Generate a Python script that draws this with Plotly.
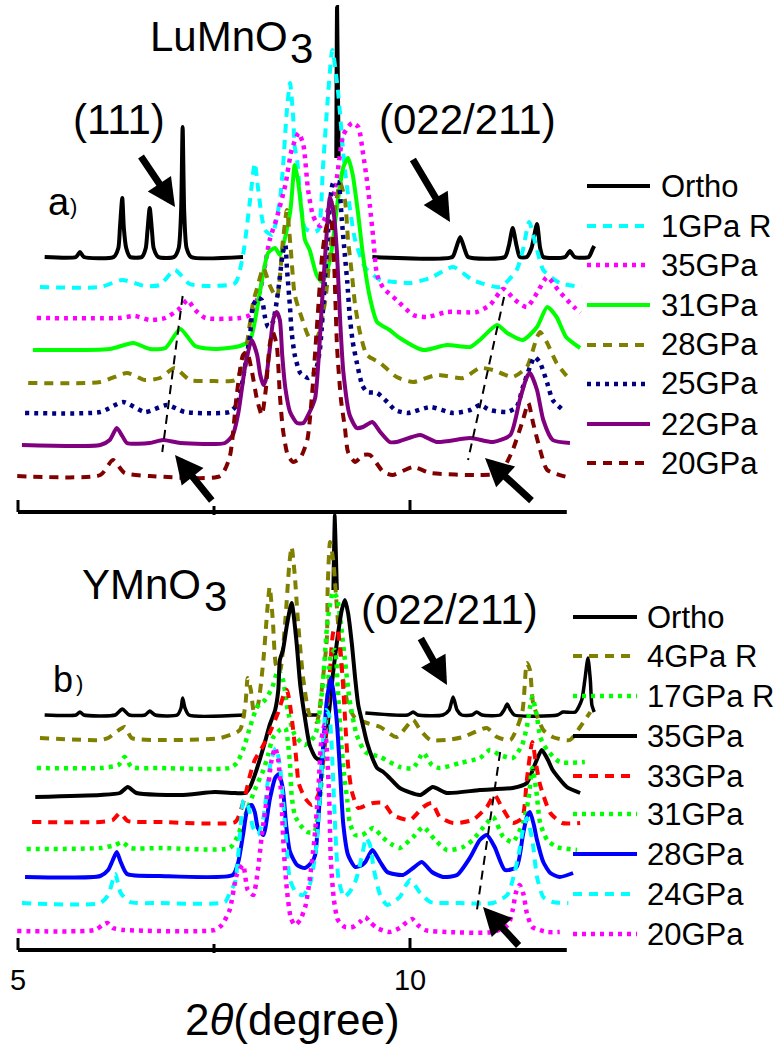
import plotly.graph_objects as go

W, H = 782, 1049
FONT = "Liberation Sans, Arial, sans-serif"

# ---------------- data (2theta in degree, intensity in arbitrary units, stacked) ----------------
tick_vals = [5, 10]
tick_text = ["5", "10"]
minor_tick = [7.5]
axis_span = [5, 12]

# Panel a) LuMnO3
a_names = ["Ortho", "1GPa R", "35GPa", "31GPa", "28GPa", "25GPa", "22GPa", "20GPa"]
a_ortho = [(5.34,255),(5.74,255),(5.79,260),(5.84,255),(6.22,255),(6.28,264),(6.30,284),(6.33,314),(6.35,284),(6.38,264),(6.43,255),
           (6.58,255),(6.63,264),(6.65,280),(6.68,304),(6.71,280),(6.73,264),(6.79,255),(6.99,255),(7.05,264),(7.08,300),(7.10,385),
           (7.12,300),(7.15,264),(7.21,255),(7.87,255), None, (9.06,354),(9.07,505),(9.09,354), None,
           (9.52,255),(10.54,255),(10.58,262),(10.64,275),(10.70,262),(10.74,255),(11.21,255),(11.26,266),(11.31,284),(11.36,266),
           (11.40,255),(11.49,255),(11.55,264),(11.62,288),(11.66,264),(11.70,255),(11.98,255),(12.04,261),(12.10,255),(12.28,255),
           (12.33,263),(12.35,266)]
a_1gpa_r = [(5.28,225),(6.05,225),(6.33,232),(6.62,226),(6.81,227),(7.00,242),(7.19,228),(7.45,226),(7.77,229),(7.87,257),(7.96,312),
            (8.02,349),(8.06,325),(8.11,295),(8.15,282),(8.24,277),(8.34,312),(8.38,345),(8.43,402),(8.47,429),(8.51,395),(8.53,365),
            (8.56,352),(8.66,284),(8.76,280),(8.83,282),(8.89,345),(8.95,412),(9.01,462),(9.08,422),(9.17,342),(9.30,272),(9.43,244),
            (9.58,234),(9.62,232),(10.00,229),(10.26,234),(10.55,245),(10.80,232),(11.15,225),(11.36,242),(11.44,262),(11.52,290),
            (11.62,262),(11.70,242),(11.91,229),(12.19,225)]
a_35gpa = [(5.24,194),(6.30,194),(6.49,196),(6.68,192),(6.88,194),(7.07,204),(7.16,212),(7.26,202),(7.39,194),(7.83,194),(7.96,197),
           (8.09,222),(8.21,272),(8.30,294),(8.41,327),(8.49,362),(8.58,379),(8.64,367),(8.70,322),(8.76,297),(8.81,289),(8.86,286),
           (9.04,322),(9.15,377),(9.26,389),(9.34,385),(9.40,359),(9.45,332),(9.49,305),(9.53,275),(9.58,237),(9.66,224),(9.83,212),
           (10.04,197),(10.22,195),(10.47,200),(10.85,200),(11.02,207),(11.19,223),(11.34,212),(11.49,205),(11.62,219),(11.75,235),
           (11.89,222),(12.04,209),(12.17,199)]
a_31gpa = [(5.19,162),(6.17,163),(6.47,169),(6.68,163),(6.88,164),(7.07,183),(7.26,166),(7.51,163),(7.83,166),(7.96,172),(8.09,222),
           (8.19,259),(8.28,264),(8.34,257),(8.47,299),(8.53,347),(8.57,332),(8.62,299),(8.66,272),(8.72,262),(8.81,237),(8.88,230),
           (8.98,252),(9.08,312),(9.15,345),(9.21,354),(9.27,337),(9.34,297),(9.40,257),(9.49,214),(9.58,190),(9.74,182),(9.87,174),
           (10.17,162),(10.47,167),(10.77,165),(10.89,172),(11.11,187),(11.24,179),(11.44,172),(11.62,185),(11.75,205),(11.87,195),
           (11.99,175),(12.17,164)]
a_28gpa = [(5.13,129),(6.05,130),(6.39,139),(6.62,132),(6.81,134),(7.00,144),(7.19,132),(7.45,131),(7.77,132),(7.87,147),(8.00,210),
           (8.05,224),(8.13,244),(8.21,227),(8.30,214),(8.38,272),(8.43,302),(8.48,262),(8.53,217),(8.62,194),(8.72,174),(8.81,174),
           (8.92,212),(9.02,292),(9.11,329),(9.17,312),(9.21,272),(9.26,237),(9.30,207),(9.36,180),(9.45,157),(9.62,149),(9.83,135),
           (10.04,130),(10.34,137),(10.68,134),(10.89,144),(11.06,142),(11.31,135),(11.49,145),(11.62,175),(11.66,180),(11.75,169),
           (11.87,149),(12.02,134)]
a_25gpa = [(5.09,99),(6.05,100),(6.34,110),(6.62,100),(6.90,107),(7.13,100),(7.70,100),(7.79,107),(7.83,117),(7.96,177),(8.00,207),
           (8.06,214),(8.11,212),(8.15,195),(8.19,185),(8.25,190),(8.32,222),(8.38,260),(8.41,267),(8.43,244),(8.47,204),(8.49,180),
           (8.53,157),(8.60,139),(8.70,134),(8.79,140),(8.85,162),(8.94,262),(9.02,329),(9.08,330),(9.13,292),(9.17,256),(9.20,230),
           (9.23,197),(9.27,170),(9.32,150),(9.39,127),(9.45,120),(9.58,119),(9.71,110),(9.81,102),(9.97,99),(10.26,105),(10.55,99),
           (10.77,102),(10.89,107),(11.02,102),(11.24,100),(11.36,105),(11.44,125),(11.53,145),(11.59,155),(11.66,149),(11.75,129),
           (11.82,112),(11.98,100)]
a_22gpa = [(5.05,67),(6.05,67),(6.17,72),(6.26,84),(6.33,76),(6.39,69),(6.68,69),(6.85,72),(7.07,69),(7.64,69),(7.74,77),(7.81,99),
           (7.90,147),(7.98,172),(8.05,157),(8.09,137),(8.13,127),(8.16,132),(8.21,162),(8.26,194),(8.30,200),(8.34,192),(8.37,157),
           (8.41,124),(8.47,100),(8.56,89),(8.64,89),(8.72,100),(8.79,114),(8.88,212),(8.94,282),(8.98,315),(9.03,297),(9.07,257),
           (9.11,190),(9.15,140),(9.23,97),(9.32,84),(9.40,85),(9.52,90),(9.62,80),(9.74,70),(9.83,70),(10.13,77),(10.34,70),
           (10.77,74),(11.06,70),(11.28,77),(11.40,112),(11.49,135),(11.53,139),(11.62,122),(11.70,92),(11.82,72),(12.04,69)]
a_20gpa = [(4.99,36),(6.05,37),(6.21,52),(6.36,39),(6.68,36),(7.58,36),(7.70,55),(7.79,117),(7.87,157),(7.92,160),(7.98,142),
           (8.05,112),(8.11,97),(8.16,122),(8.21,167),(8.25,180),(8.30,167),(8.34,117),(8.38,82),(8.44,57),(8.51,50),(8.60,54),
           (8.69,72),(8.75,117),(8.81,182),(8.88,257),(8.94,287),(8.99,292),(9.03,252),(9.07,164),(9.12,112),(9.17,84),(9.21,60),
           (9.30,50),(9.40,57),(9.49,57),(9.66,40),(9.78,37),(10.04,45),(10.26,39),(10.89,37),(11.15,39),(11.31,62),(11.44,92),
           (11.51,109),(11.57,89),(11.66,62),(11.75,42),(12.00,35)]
a_guides = [[(7.10,216),(6.84,60)], [(11.20,215),(10.74,52)]]

# Panel b) YMnO3
b_names = ["Ortho", "4GPa R", "17GPa R", "35GPa", "33GPa", "31GPa", "28GPa", "24GPa", "20GPa"]
b_ortho = [(5.34,235),(5.74,235),(5.79,238),(5.84,235),(6.24,235),(6.33,241),(6.42,235),(6.62,235),(6.68,239),(6.75,235),(7.03,235),
           (7.08,242),(7.10,252),(7.13,242),(7.18,235),(7.90,235), None, (8.66,235),(8.83,235), None, (9.02,360),(9.04,435),(9.07,360),
           None, (9.43,237),(9.97,235),(10.04,238),(10.10,235),(10.42,235),(10.50,240),(10.55,253),(10.60,240),(10.66,235),(10.79,235),
           (10.85,238),(10.92,235),(11.15,235),(11.20,240),(11.24,246),(11.28,240),(11.33,235),(11.88,235),(11.95,238),(12.11,238),
           (12.19,250),(12.23,270),(12.27,292),(12.30,270),(12.32,245),(12.35,238)]
b_4gpa_r = [(5.28,212),(6.05,210),(6.15,212),(6.36,223),(6.45,212),(6.81,210),(7.58,212),(7.83,220),(7.90,245),(7.93,272),(7.97,260),
            (8.01,238),(8.06,245),(8.13,290),(8.18,340),(8.21,363),(8.25,330),(8.29,285),(8.34,278),(8.41,330),(8.46,385),(8.49,403),
            (8.53,375),(8.57,330),(8.64,270),(8.72,235),(8.81,228),(8.89,272),(8.94,312),(8.95,362),(8.98,408),(9.02,390),(9.07,340),
            (9.13,280),(9.21,245),(9.30,232),(9.45,227),(9.62,223),(9.83,213),(10.04,230),(10.13,220),(10.26,210),(10.47,210),
            (10.68,213),(10.98,222),(11.11,213),(11.28,210),(11.43,237),(11.49,287),(11.53,280),(11.57,247),(11.70,220),(11.82,213),
            (12.04,210),(12.17,223),(12.30,238)]
b_17gpa_r = [(5.24,182),(6.05,182),(6.28,185),(6.36,193),(6.45,183),(6.81,182),(7.70,182),(7.79,187),(7.87,200),(7.96,223),(8.05,243),
             (8.15,250),(8.24,262),(8.32,280),(8.38,270),(8.44,240),(8.53,215),(8.66,205),(8.79,215),(8.88,260),(8.95,330),(9.02,358),
             (9.07,352),(9.12,325),(9.17,290),(9.23,250),(9.32,215),(9.43,198),(9.62,193),(9.87,183),(10.04,182),(10.17,197),(10.28,185),
             (10.38,182),(10.64,187),(10.89,192),(11.02,200),(11.15,195),(11.31,192),(11.43,205),(11.49,223),(11.56,253),(11.62,233),
             (11.66,213),(11.75,200),(11.91,188),(12.23,188)]
b_35gpa = [(5.22,153),(6.05,155),(6.30,157),(6.40,163),(6.51,157),(7.07,155),(7.51,158),(7.77,157),(7.90,157),(7.96,163),(8.02,175),
           (8.09,192),(8.15,208),(8.21,225),(8.28,240),(8.32,260),(8.34,290),(8.38,300),(8.43,325),(8.49,347),(8.55,310),(8.60,265),
           (8.66,232),(8.72,205),(8.79,193),(8.85,190),(8.94,220),(9.02,278),(9.08,315),(9.13,340),(9.17,350),(9.21,337),(9.26,305),
           (9.30,272),(9.34,245),(9.39,228),(9.45,208),(9.52,192),(9.58,182),(9.66,178),(9.74,172),(9.87,162),(10.13,155),(10.29,163),
           (10.47,157),(10.89,160),(11.31,162),(11.49,167),(11.59,185),(11.68,200),(11.76,190),(11.82,180),(12.00,163),(12.17,157)]
b_33gpa = [(5.18,128),(6.05,128),(6.21,130),(6.30,137),(6.40,129),(6.81,128),(7.77,128),(7.83,137),(7.90,155),(7.96,175),(8.02,190),
           (8.11,202),(8.21,217),(8.32,238),(8.39,255),(8.43,260),(8.47,245),(8.51,220),(8.55,190),(8.58,167),(8.66,152),(8.75,145),
           (8.83,155),(8.92,210),(8.98,280),(9.03,320),(9.07,320),(9.11,302),(9.15,260),(9.18,220),(9.21,185),(9.26,158),(9.34,142),
           (9.45,145),(9.53,147),(9.66,147),(9.78,135),(10.00,130),(10.17,143),(10.28,147),(10.38,133),(10.55,127),(10.80,130),
           (10.98,143),(11.08,155),(11.17,143),(11.31,127),(11.43,132),(11.49,170),(11.56,208),(11.61,185),(11.66,165),(11.79,137),
           (11.94,127),(12.17,127)]
b_31gpa = [(5.11,101),(6.05,102),(6.24,105),(6.33,108),(6.43,102),(6.81,102),(7.70,102),(7.79,112),(7.90,135),(8.02,160),(8.13,180),
           (8.19,195),(8.25,212),(8.34,220),(8.41,222),(8.44,210),(8.47,185),(8.49,155),(8.53,135),(8.60,125),(8.69,118),(8.78,118),
           (8.85,150),(8.93,230),(8.99,295),(9.04,300),(9.08,260),(9.12,210),(9.16,175),(9.20,150),(9.23,128),(9.30,115),(9.39,115),
           (9.45,118),(9.53,122),(9.66,112),(9.78,105),(9.87,102),(10.04,113),(10.17,123),(10.32,110),(10.47,100),(10.68,103),
           (10.80,110),(10.98,127),(11.06,133),(11.19,113),(11.31,108),(11.44,127),(11.51,150),(11.56,182),(11.61,160),(11.66,127),
           (11.75,110),(11.87,103),(12.13,100)]
b_28gpa = [(5.09,73),(6.05,74),(6.15,80),(6.21,90),(6.26,98),(6.31,88),(6.39,76),(6.81,74),(7.74,75),(7.81,88),(7.87,115),(7.93,142),
           (7.98,145),(8.02,138),(8.06,122),(8.13,115),(8.21,150),(8.28,172),(8.33,176),(8.38,160),(8.42,125),(8.47,98),(8.56,85),
           (8.66,82),(8.75,88),(8.79,95),(8.88,190),(8.94,250),(8.99,272),(9.03,255),(9.07,225),(9.11,175),(9.15,125),(9.21,95),
           (9.30,83),(9.39,85),(9.43,88),(9.52,100),(9.62,88),(9.71,78),(9.91,75),(10.04,82),(10.15,88),(10.28,78),(10.42,73),
           (10.60,75),(10.77,93),(10.89,110),(10.98,115),(11.08,103),(11.21,80),(11.36,83),(11.44,115),(11.49,133),(11.53,138),
           (11.58,125),(11.62,110),(11.70,88),(11.79,77),(11.91,73),(12.08,77)]
b_24gpa = [(5.05,47),(6.05,47),(6.15,55),(6.24,76),(6.31,57),(6.43,48),(6.81,47),(7.64,48),(7.70,57),(7.77,68),(7.83,115),(7.88,150),
           (7.93,145),(8.00,122),(8.06,115),(8.13,132),(8.18,165),(8.23,190),(8.29,202),(8.34,185),(8.38,150),(8.42,110),(8.47,70),
           (8.55,57),(8.64,55),(8.72,65),(8.80,100),(8.88,190),(8.93,240),(8.97,235),(9.02,170),(9.05,115),(9.09,70),(9.16,53),
           (9.23,58),(9.31,70),(9.39,95),(9.44,112),(9.49,105),(9.54,80),(9.62,55),(9.71,45),(9.87,53),(9.95,65),(10.00,70),
           (10.06,65),(10.13,57),(10.26,48),(10.64,47),(11.06,47),(11.24,55),(11.31,70),(11.38,93),(11.44,120),(11.49,132),
           (11.56,110),(11.62,73),(11.70,53),(11.82,48),(12.02,47)]
b_20gpa = [(4.99,19),(5.98,20),(6.08,25),(6.14,27),(6.21,22),(6.36,20),(7.51,20),(7.60,25),(7.70,40),(7.79,75),(7.87,85),(7.93,60),
           (8.00,55),(8.06,80),(8.11,115),(8.18,155),(8.23,188),(8.28,202),(8.32,190),(8.36,150),(8.39,100),(8.43,60),(8.48,32),
           (8.53,25),(8.60,30),(8.67,45),(8.72,70),(8.78,110),(8.83,160),(8.87,210),(8.91,225),(8.94,200),(8.97,150),(8.99,90),
           (9.03,50),(9.08,30),(9.17,23),(9.27,23),(9.36,28),(9.43,33),(9.49,28),(9.58,22),(9.74,18),(9.87,22),(9.96,28),(10.03,31),
           (10.10,25),(10.19,20),(10.47,18),(11.06,18),(11.25,25),(11.31,40),(11.35,57),(11.40,65),(11.45,55),(11.49,37),(11.56,23),
           (11.75,18),(11.91,18)]
b_guides = [[(11.15,198),(10.85,38)]]

# ---------------- styles ----------------
DASH = "9px,7px"
DOT = "4px,5px"
a_styles = [("black", "solid", 4), ("#00FFFF", DASH, 4), ("#FF00FF", DOT, 4.5), ("#00FF00", "solid", 4),
            ("#808000", DASH, 4), ("#000080", DOT, 4.5), ("#800080", "solid", 4), ("#800000", DASH, 4)]
b_styles = [("black", "solid", 3.5), ("#808000", DASH, 4), ("#00FF00", DOT, 4.5), ("black", "solid", 4),
            ("#FF0000", DASH, 4), ("#00FF00", DOT, 4.5), ("#0000FF", "solid", 4), ("#00FFFF", DASH, 4),
            ("#FF00FF", DOT, 4.5)]
a_data = [a_ortho, a_1gpa_r, a_35gpa, a_31gpa, a_28gpa, a_25gpa, a_22gpa, a_20gpa]
b_data = [b_ortho, b_4gpa_r, b_17gpa_r, b_35gpa, b_33gpa, b_31gpa, b_28gpa, b_24gpa, b_20gpa]


def split(pts):
    xs, ys = [], []
    for p in pts:
        if p is None:
            xs.append(None); ys.append(None)
        else:
            xs.append(p[0]); ys.append(p[1])
    return xs, ys


fig = go.Figure()
for names, datas, styles, xa, ya in [(a_names, a_data, a_styles, "x", "y"),
                                     (b_names, b_data, b_styles, "x2", "y2")]:
    for name, pts, (c, d, w) in zip(names, datas, styles):
        xs, ys = split(pts)
        fig.add_trace(go.Scatter(x=xs, y=ys, mode="lines", name=name, showlegend=False,
                                 line=dict(color=c, dash=d, width=w, shape="spline", smoothing=0.6),
                                 xaxis=xa, yaxis=ya, hoverinfo="skip"))
for guides, xa, ya in [(a_guides, "x", "y"), (b_guides, "x2", "y2")]:
    for g in guides:
        xs, ys = split(g)
        fig.add_trace(go.Scatter(x=xs, y=ys, mode="lines", showlegend=False, hoverinfo="skip",
                                 line=dict(color="black", dash="9px,6px", width=2), xaxis=xa, yaxis=ya))

# ---------------- layout helpers ----------------
def px(x):
    return x / W


def py(y):
    return 1 - y / H


shapes = []
annotations = []

# axis lines and ticks
for xr, yr in [("x", "y"), ("x2", "y2")]:
    shapes.append(dict(type="line", xref=xr, yref=yr, x0=axis_span[0], x1=axis_span[1], y0=0, y1=0,
                       line=dict(color="black", width=4)))
    for v in tick_vals:
        shapes.append(dict(type="line", xref=xr, yref=yr, x0=v, x1=v, y0=0, y1=12,
                           line=dict(color="black", width=3)))
    for v in minor_tick:
        shapes.append(dict(type="line", xref=xr, yref=yr, x0=v, x1=v, y0=-3, y1=6,
                           line=dict(color="black", width=3)))

# manual legends
a_leg_y = [186, 226, 265, 305, 345, 384, 424, 463]
b_leg_y = [617, 656, 696, 736, 776, 814, 854, 894, 934]
for names, styles, rows, x0, x1, xt in [(a_names, a_styles, a_leg_y, 587, 650, 659),
                                         (b_names, b_styles, b_leg_y, 573, 637, 645)]:
    for name, (c, d, w), yy in zip(names, styles, rows):
        shapes.append(dict(type="line", xref="paper", yref="paper", x0=px(x0), x1=px(x1), y0=py(yy), y1=py(yy),
                           line=dict(color=c, dash=d, width=4 if w < 4.5 else w)))
        annotations.append(dict(text=name, x=px(xt), y=py(yy), xref="paper", yref="paper", xanchor="left",
                                yanchor="middle", showarrow=False, font=dict(family=FONT, size=31, color="black")))


def label(text, x, y, size, anchor="left"):
    annotations.append(dict(text=text, x=px(x), y=py(y), xref="paper", yref="paper", xanchor=anchor,
                            yanchor="middle", showarrow=False, font=dict(family=FONT, size=size, color="black")))


label("LuMnO", 148, 37, 42)
label("3", 288, 48, 42)
label("(111)", 71, 119, 42)
label("(022/211)", 377, 119, 42)
label("a", 46, 202, 38)
label(")", 68, 206, 22)
label("YMnO", 80, 584, 42)
label("3", 202, 596, 42)
label("b", 51, 679, 36)
label(")", 74, 683, 22)
label("(022/211)", 359, 609, 42)
label("2<i>θ</i>(degree)", 292, 1019, 44, anchor="center")

# arrows: (tip x, tip y, tail x, tail y) in pixels
arrows = [(175, 207, 140, 155), (450, 222, 412, 158), (175, 455, 213, 502), (485, 458, 533, 502),
          (447, 685, 420, 637), (483, 907, 520, 947)]
for tx, ty, sx, sy in arrows:
    annotations.append(dict(x=px(tx), y=py(ty), xref="paper", yref="paper", ax=sx - tx, ay=sy - ty,
                            axref="pixel", ayref="pixel", text="", showarrow=True, arrowhead=2,
                            arrowsize=0.8, arrowwidth=7, arrowcolor="black", standoff=0))

XR = [5 - 18 / 78.4, 5 + (W - 18) / 78.4]
fig.update_layout(
    width=W, height=H, margin=dict(l=0, r=0, t=0, b=0),
    paper_bgcolor="white", plot_bgcolor="rgba(0,0,0,0)", showlegend=False,
    font=dict(family=FONT, color="black"),
    xaxis=dict(domain=[0, 1], range=XR, anchor="y", visible=False),
    yaxis=dict(domain=[1 - 522 / H, 1], range=[-10, 512], anchor="x", visible=False),
    xaxis2=dict(domain=[0, 1], range=XR, anchor="y2", showgrid=False, zeroline=False, showline=False,
                ticks="", tickvals=tick_vals, ticktext=tick_text, tickfont=dict(family=FONT, size=29, color="black")),
    yaxis2=dict(domain=[1 - 960 / H, 1 - 505 / H], range=[-10, 445], anchor="x2", visible=False),
    shapes=shapes, annotations=annotations,
)
fig.write_html("out.html", config={"displayModeBar": False},
               post_script="document.body.style.margin='0px';document.body.style.overflow='hidden';")
